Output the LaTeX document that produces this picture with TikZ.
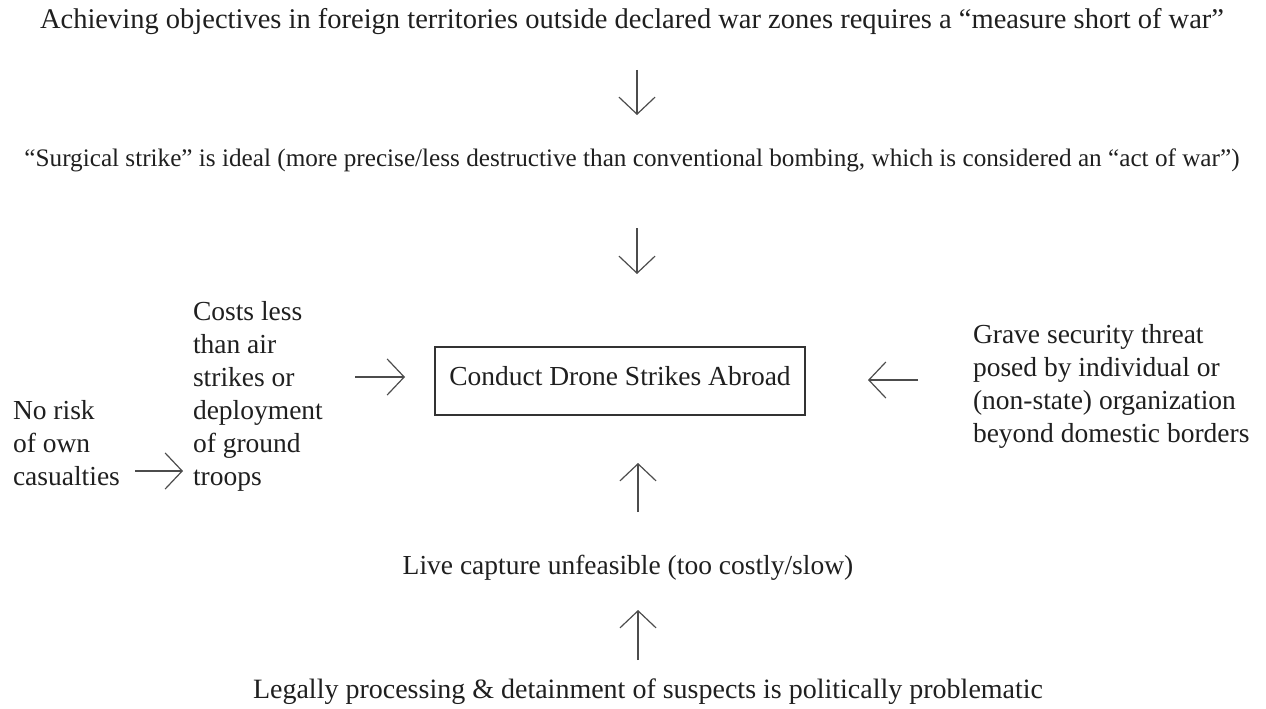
\documentclass[tikz,border=0pt]{standalone}
\usepackage{fontspec}
\setmainfont{Liberation Serif}
\usetikzlibrary{arrows.meta}
\begin{document}
\begin{tikzpicture}[x=1pt,y=-1pt,
  every node/.style={inner sep=0pt, outer sep=0pt, text=black!88},
  txt/.style={font=\fontsize{27.5}{33}\selectfont, align=left},
  arr/.style={draw=black!70, line width=1.2pt, -{Straight Barb[length=17pt,width=36pt,line width=1.2pt]}},
  boxst/.style={draw=black!80, line width=1.4pt, text height=38pt, text depth=30pt, minimum width=370pt}]
\path[use as bounding box] (0,0) rectangle (1266,709);
\node[txt, font=\fontsize{28.5}{33}\selectfont, anchor=base] (top) at (632,29) {Achieving objectives in foreign territories outside declared war zones requires a “measure short of war”};
\node[txt, font=\fontsize{25.2}{33}\selectfont, anchor=base] (surg) at (632,166) {“Surgical strike” is ideal (more precise/less destructive than conventional bombing, which is considered an “act of war”)};
\node[txt, boxst, anchor=base] (drone) at (620,385) {Conduct Drone Strikes Abroad};
\node[txt, anchor=base west] (costs) at (193,485) {Costs less\\than air\\strikes or\\deployment\\of ground\\troops};
\node[txt, anchor=base west] (norisk) at (13,485) {No risk\\of own\\casualties};
\node[txt, anchor=base west] (grave) at (973,442) {Grave security threat\\posed by individual or\\(non-state) organization\\beyond domestic borders};
\node[txt, anchor=base] (live) at (628,574) {Live capture unfeasible (too costly/slow)};
\node[txt, font=\fontsize{28}{33}\selectfont, anchor=base west] (legal) at (253,698) {Legally processing \& detainment of suspects is politically problematic};
\coordinate (a1s) at (637,70);  \coordinate (a1e) at (637,115);
\coordinate (a2s) at (637,228); \coordinate (a2e) at (637,274);
\coordinate (a3s) at (355,377); \coordinate (a3e) at (405,377);
\coordinate (a4s) at (918,380); \coordinate (a4e) at (868,380);
\coordinate (a5s) at (638,512); \coordinate (a5e) at (638,463);
\coordinate (a6s) at (638,660); \coordinate (a6e) at (638,610);
\coordinate (a7s) at (135,471); \coordinate (a7e) at (183,471);
\draw[arr] (a1s) -- (a1e);
\draw[arr] (a2s) -- (a2e);
\draw[arr] (a3s) -- (a3e);
\draw[arr] (a4s) -- (a4e);
\draw[arr] (a5s) -- (a5e);
\draw[arr] (a6s) -- (a6e);
\draw[arr] (a7s) -- (a7e);
\end{tikzpicture}
\end{document}
